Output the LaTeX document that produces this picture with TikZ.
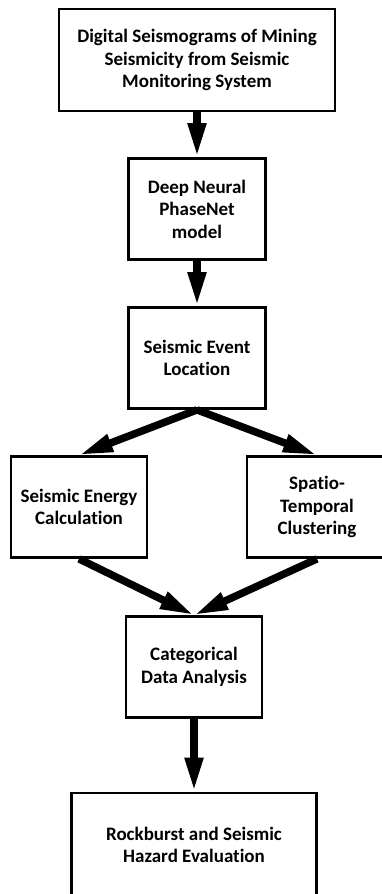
\documentclass[tikz,border=0pt]{standalone}
\usepackage{fontspec}
\setmainfont{Carlito}[Ligatures={NoCommon}]
\usetikzlibrary{arrows.meta}
\tikzset{%
  >={Triangle[width=17pt,length=34pt]},
  % Specifications for style of nodes:
       base/.style = {rectangle, draw=black, line width=2.7pt,
                      align=center, inner sep=0pt,
                      font=\fontsize{19}{22.5}\selectfont\bfseries},
      stage/.style = {base, minimum width=137pt, minimum height=101pt},
   widestage/.style = {base, minimum width=276pt, minimum height=102pt},
      flow/.style = {->, line width=7.5pt, draw=black},
}

\begin{document}
\begin{tikzpicture}[node distance=149pt]
                    \useasboundingbox (0pt,0pt) rectangle (382pt,-894pt);
                    \node (seismograms)  [widestage] at (197pt,-60pt) {Digital Seismograms of Mining\\Seismicity from Seismic\\Monitoring System};
                    \node (phasenet)     [stage, below of=seismograms]  {Deep Neural\\PhaseNet\\model};
                    \node (location)     [stage, below of=phasenet]     {Seismic Event\\Location};
                    \node (energy)       [stage, minimum width=136pt, below of=location, xshift=-118pt] {Seismic Energy\\Calculation};
                    \node (clustering)   [stage, minimum width=140pt, below of=location, xshift=120pt]  {Spatio-\\Temporal\\Clustering};
                    \node (categorical)  [stage, minimum width=136pt, below of=energy, xshift=115pt, yshift=-11pt] {Categorical\\Data Analysis};
                    \node (hazard)       [base, minimum width=245pt, minimum height=104pt, below of=categorical, yshift=-29pt] {Rockburst and Seismic\\Hazard Evaluation};

                    \draw[flow] (seismograms) -- (phasenet);
                    \draw[flow] (phasenet) -- (location);
                    \draw[flow] (location.south) -- (energy.north);
                    \draw[flow] (location.south) -- (clustering.north);
                    \draw[flow] (energy.south) -- (categorical.north);
                    \draw[flow] (clustering.south) -- (categorical.north);
                    \draw[flow] (categorical) -- (hazard);
                \end{tikzpicture}
\end{document}
